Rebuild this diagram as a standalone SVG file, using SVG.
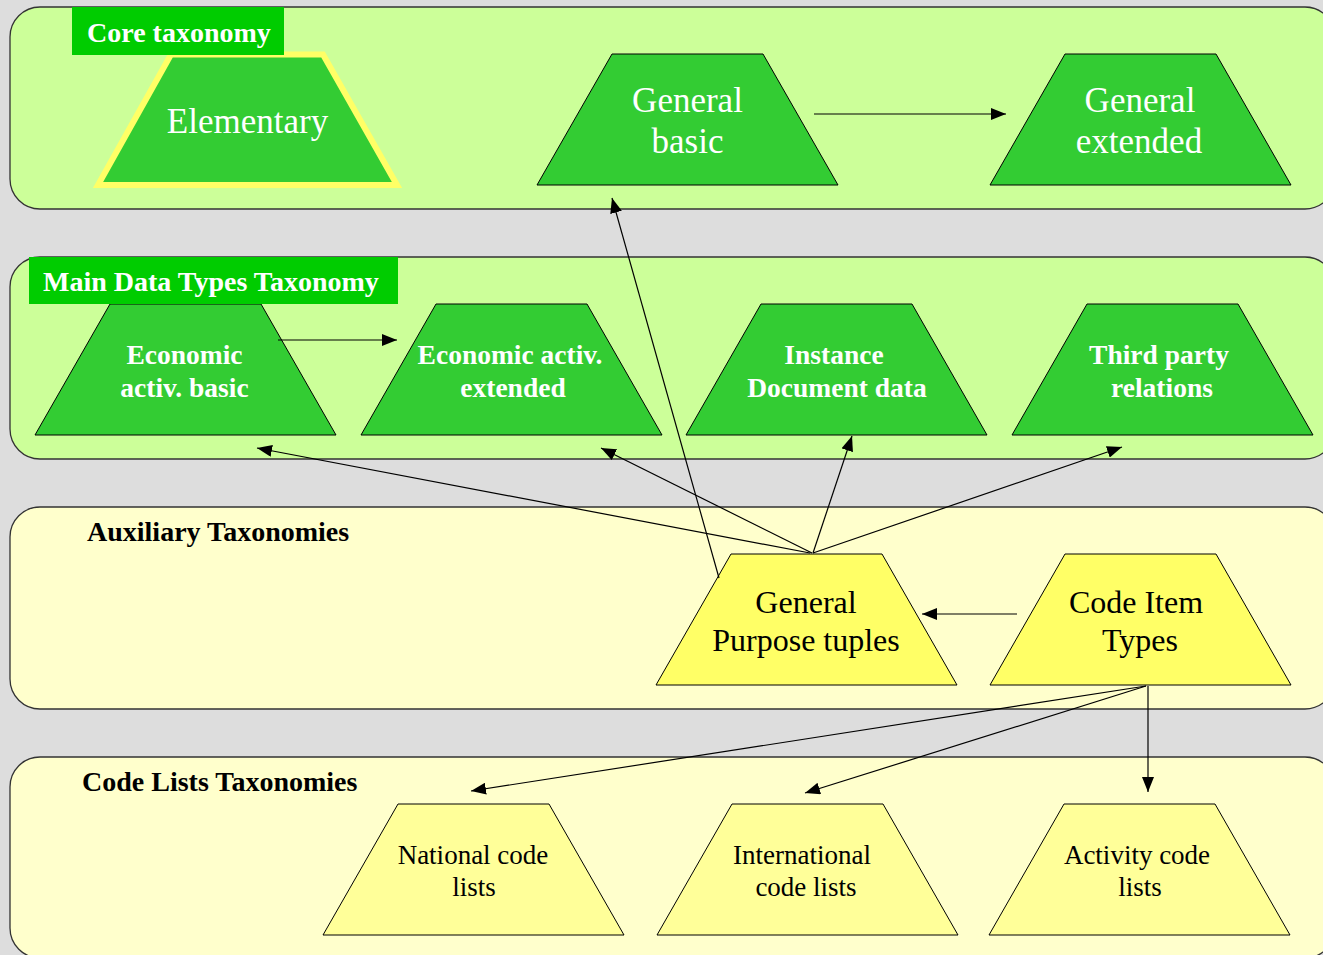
<svg xmlns="http://www.w3.org/2000/svg" width="1323" height="955" viewBox="0 0 1323 955">
<style>
.band{stroke:#333;stroke-width:1.3}
.green{fill:#CCFF99}
.pale{fill:#FFFFCC}
.lbl{fill:#00CC00}
.tg{fill:#33CC33;stroke:#000;stroke-width:1}
.ty{fill:#FFFF66;stroke:#000;stroke-width:1}
.tl{fill:#FFFF99;stroke:#000;stroke-width:1}
.elem{fill:#33CC33;stroke:#FFFF66;stroke-width:6;stroke-linejoin:miter}
text{font-family:"Liberation Serif","Times New Roman",serif}
.bt{font-weight:bold;font-size:28px}
.w{fill:#fff}
.k{fill:#000}
.big{font-size:35px;text-anchor:middle}
.mid{font-size:32px;text-anchor:middle}
.bn{font-weight:bold;font-size:27.5px;text-anchor:middle}
.sm{font-size:27px;text-anchor:middle}
.conn line{stroke:#000;stroke-width:1.2;marker-end:url(#ah)}
</style>
<defs>
<marker id="ah" markerUnits="userSpaceOnUse" markerWidth="16" markerHeight="12" refX="15" refY="6" orient="auto">
<path d="M0,0 L15,6 L0,12 Z" fill="#000"/>
</marker>
</defs>
<rect x="0" y="0" width="1323" height="955" fill="#DDDDDD"/>

<g id="band-core">
<rect class="band green" x="10" y="7" width="1325" height="202" rx="30" ry="30"/>
</g>
<g id="band-main">
<rect class="band green" x="10" y="257" width="1325" height="202" rx="30" ry="30"/>
</g>
<g id="band-aux">
<rect class="band pale" x="10" y="507" width="1325" height="202" rx="30" ry="30"/>
<text class="bt k" x="87" y="541">Auxiliary Taxonomies</text>
</g>
<g id="band-codelists">
<rect class="band pale" x="10" y="757" width="1325" height="201" rx="30" ry="30"/>
<text class="bt k" x="82" y="791">Code Lists Taxonomies</text>
</g>

<g id="elementary">
<polygon class="elem" points="171,54.5 323,54.5 397,185 98,185"/>
<text class="big w" x="247.5" y="133">Elementary</text>
</g>
<g id="general-basic">
<polygon class="tg" points="612,54 763,54 838,185 537,185"/>
<text class="big w" x="687.5" y="112">General</text>
<text class="big w" x="687.5" y="153">basic</text>
</g>
<g id="general-extended">
<polygon class="tg" points="1065,54 1216,54 1291,185 990,185"/>
<text class="big w" x="1140" y="112">General</text>
<text class="big w" x="1139" y="153">extended</text>
</g>

<g id="econ-basic">
<polygon class="tg" points="110,304 261,304 336,435 35,435"/>
<text class="bn w" x="184.5" y="364">Economic</text>
<text class="bn w" x="184.5" y="397">activ. basic</text>
</g>
<g id="econ-extended">
<polygon class="tg" points="436,304 587,304 662,435 361,435"/>
<text class="bn w" x="510" y="364">Economic activ.</text>
<text class="bn w" x="513" y="397">extended</text>
</g>
<g id="instance-document">
<polygon class="tg" points="761,304 912,304 987,435 686,435"/>
<text class="bn w" x="834" y="364">Instance</text>
<text class="bn w" x="837" y="397">Document data</text>
</g>
<g id="third-party">
<polygon class="tg" points="1087,304 1238,304 1313,435 1012,435"/>
<text class="bn w" x="1159" y="364">Third party</text>
<text class="bn w" x="1162" y="397">relations</text>
</g>

<g id="core-label">
<rect class="lbl" x="72" y="7" width="212" height="48"/>
<text class="bt w" x="87" y="42">Core taxonomy</text>
</g>
<g id="main-label">
<rect class="lbl" x="29" y="257" width="369" height="47"/>
<text class="bt w" x="43" y="291">Main Data Types Taxonomy</text>
</g>

<g id="general-purpose-tuples">
<polygon class="ty" points="731,554 882,554 957,685 656,685"/>
<text class="mid k" x="806" y="613">General</text>
<text class="mid k" x="806" y="651">Purpose tuples</text>
</g>
<g id="code-item-types">
<polygon class="ty" points="1065,554 1216,554 1291,685 990,685"/>
<text class="mid k" x="1136" y="613">Code Item</text>
<text class="mid k" x="1140" y="651">Types</text>
</g>

<g id="national-code-lists">
<polygon class="tl" points="398,804 549,804 624,935 323,935"/>
<text class="sm k" x="473" y="864">National code</text>
<text class="sm k" x="474" y="896">lists</text>
</g>
<g id="international-code-lists">
<polygon class="tl" points="732,804 883,804 958,935 657,935"/>
<text class="sm k" x="802" y="864">International</text>
<text class="sm k" x="806" y="896">code lists</text>
</g>
<g id="activity-code-lists">
<polygon class="tl" points="1064,804 1215,804 1290,935 989,935"/>
<text class="sm k" x="1137" y="864">Activity code</text>
<text class="sm k" x="1140" y="896">lists</text>
</g>

<g id="connectors" class="conn">
<line x1="814" y1="114" x2="1006" y2="114"/>
<line x1="278" y1="340" x2="397" y2="340"/>
<line x1="1017" y1="614" x2="922" y2="614"/>
<line x1="719" y1="578" x2="612" y2="198"/>
<line x1="810" y1="553" x2="257" y2="448"/>
<line x1="812" y1="553" x2="601" y2="448"/>
<line x1="813" y1="553" x2="852" y2="436"/>
<line x1="813" y1="553" x2="1122" y2="447"/>
<line x1="1146" y1="686" x2="471" y2="791"/>
<line x1="1146" y1="686" x2="805" y2="793"/>
<line x1="1148" y1="686" x2="1148" y2="792"/>
</g>
</svg>
